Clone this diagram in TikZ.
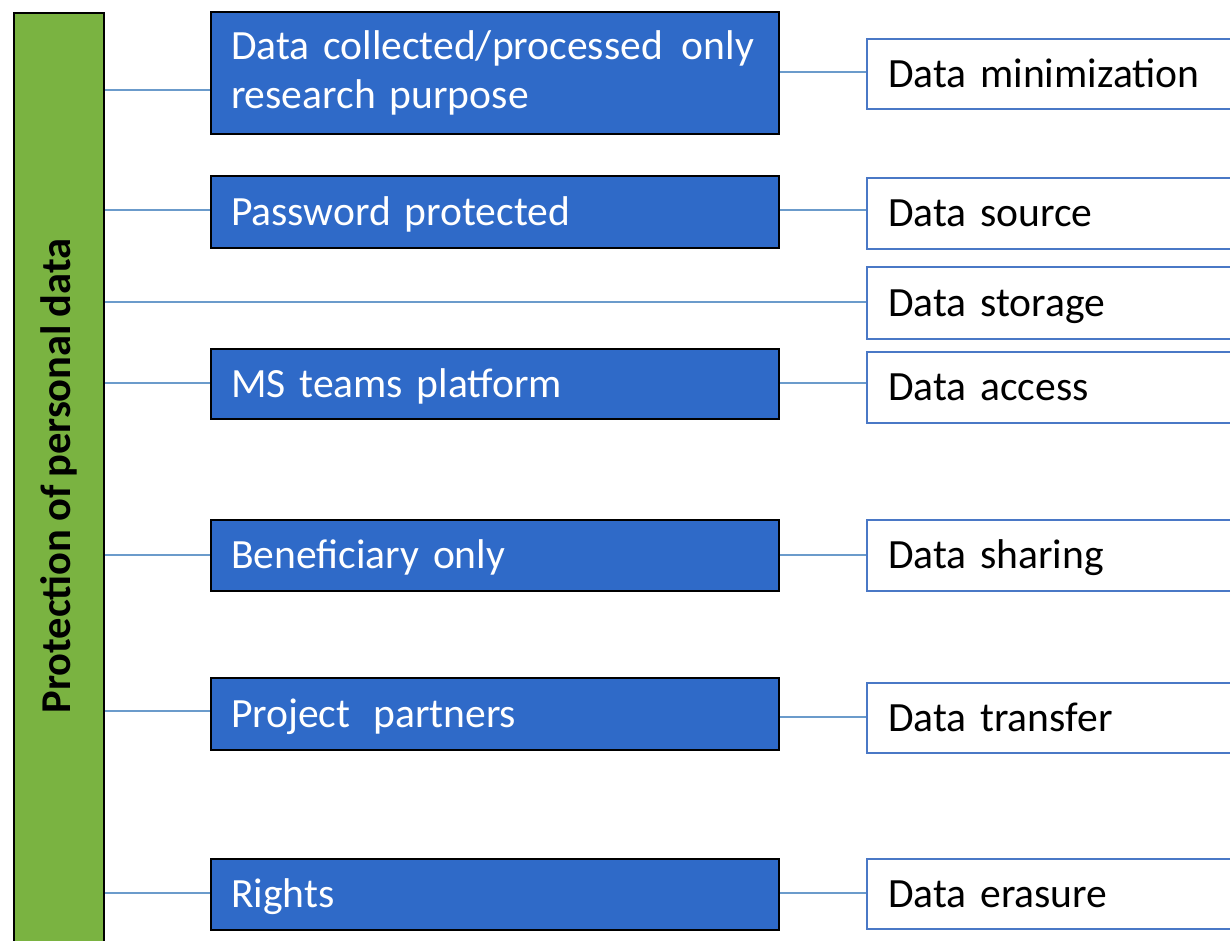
\documentclass[tikz,border=0pt]{standalone}
\usepackage{fontspec}
\setmainfont{Carlito}[WordSpace=0.8]
\definecolor{barGreen}{HTML}{7AB341}
\definecolor{boxBlue}{HTML}{2F6AC8}
\definecolor{linkBlue}{HTML}{6B9BCB}
\definecolor{frameBlue}{HTML}{4A78C6}
\begin{document}
\begin{tikzpicture}[x=1pt,y=-1pt,
  boxfont/.style={font=\fontsize{41.6}{49}\selectfont},
  oneline/.style={text height=34pt,text depth=8pt},
  measure/.style={draw=black,line width=2pt,fill=boxBlue,text=white,
    anchor=north west,minimum width=568pt,text width=528pt,inner xsep=20pt,
    inner ysep=0pt,align=left,boxfont},
  aspect/.style={draw=frameBlue,line width=2pt,fill=white,text=black,
    anchor=north west,minimum width=374pt,text width=332pt,inner xsep=21pt,
    inner ysep=0pt,align=left,boxfont,oneline},
  link/.style={draw=linkBlue,line width=2pt}]
\useasboundingbox (0,0) rectangle (1230,940);

% left bar with the vertical title
\node[draw=black,line width=2pt,fill=barGreen,anchor=north west,
  minimum width=90pt,minimum height=945pt,inner sep=0pt] (bar) at (13,12) {};
\node[rotate=90,font=\fontsize{42.5}{49}\selectfont\bfseries] (title) at (59,476)
  {Protection of personal data};

% measures (blue boxes)
\node[measure,minimum height=122pt] (m1) at (210,11)
  {\makebox[0pt][l]{Data collected/processed\hspace{5pt} only}\\research purpose};
\node[measure,oneline,minimum height=72pt] (m2) at (210,175) {Password protected};
\node[measure,oneline,minimum height=70pt] (m3) at (210,348) {MS teams platform};
\node[measure,oneline,minimum height=71pt] (m4) at (210,519) {Beneficiary only};
\node[measure,oneline,minimum height=72pt] (m5) at (210,677) {Project\hspace{9pt} partners};
\node[measure,oneline,minimum height=71pt] (m6) at (210,858) {Rights};

% aspects (white boxes)
\node[aspect,minimum height=70pt] (a1) at (866,38) {Data minimization};
\node[aspect,minimum height=71pt] (a2) at (866,177) {Data source};
\node[aspect,minimum height=72pt] (a3) at (866,266) {Data storage};
\node[aspect,minimum height=71pt] (a4) at (866,351) {Data access};
\node[aspect,minimum height=71pt] (a5) at (866,519) {Data sharing};
\node[aspect,minimum height=70pt] (a6) at (866,682) {Data transfer};
\node[aspect,minimum height=70pt] (a7) at (866,858) {Data erasure};

% connectors from the bar to the measures
\draw[link] (bar.east |- 0,90) -- (m1.west |- 0,90);
\draw[link] (bar.east |- 0,210) -- (m2.west |- 0,210);
\draw[link] (bar.east |- 0,302) -- (a3.west |- 0,302);
\draw[link] (bar.east |- 0,383) -- (m3.west |- 0,383);
\draw[link] (bar.east |- 0,555) -- (m4.west |- 0,555);
\draw[link] (bar.east |- 0,711) -- (m5.west |- 0,711);
\draw[link] (bar.east |- 0,893) -- (m6.west |- 0,893);

% connectors from the measures to the aspects
\draw[link] (m1.east |- 0,72) -- (a1.west |- 0,72);
\draw[link] (m2.east |- 0,210) -- (a2.west |- 0,210);
\draw[link] (m3.east |- 0,383) -- (a4.west |- 0,383);
\draw[link] (m4.east |- 0,555) -- (a5.west |- 0,555);
\draw[link] (m5.east |- 0,717) -- (a6.west |- 0,717);
\draw[link] (m6.east |- 0,893) -- (a7.west |- 0,893);
\end{tikzpicture}
\end{document}
